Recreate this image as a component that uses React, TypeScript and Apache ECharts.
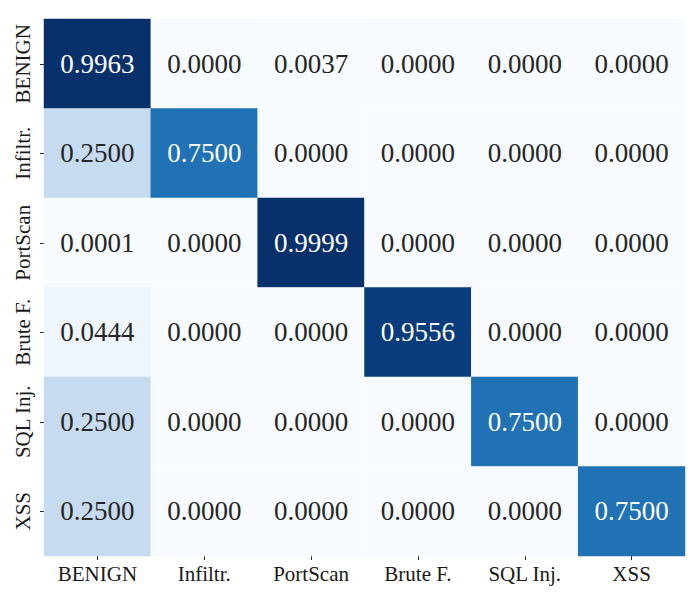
import React, { useEffect, useRef } from "react";
import * as echarts from "echarts";

const categories = ["BENIGN", "Infiltr.", "PortScan", "Brute F.", "SQL Inj.", "XSS"];
const rowBenign = [0.9963, 0.0, 0.0037, 0.0, 0.0, 0.0];
const rowInfiltr = [0.25, 0.75, 0.0, 0.0, 0.0, 0.0];
const rowPortScan = [0.0001, 0.0, 0.9999, 0.0, 0.0, 0.0];
const rowBrute = [0.0444, 0.0, 0.0, 0.9556, 0.0, 0.0];
const rowSql = [0.25, 0.0, 0.0, 0.0, 0.75, 0.0];
const rowXss = [0.25, 0.0, 0.0, 0.0, 0.0, 0.75];
const rows = [rowBenign, rowInfiltr, rowPortScan, rowBrute, rowSql, rowXss];

const blues = ["#f7fbff", "#deebf7", "#c6dbef", "#9ecae1", "#6baed6", "#4292c6", "#2171b5", "#08519c", "#08306b"];
const FONT = "Liberation Serif";

export default function App() {
  const ref = useRef<HTMLDivElement>(null);
  useEffect(() => {
    document.body.style.margin = "0";
    const chart = echarts.init(ref.current!, null, { renderer: "svg" });
    const all = rows.flat();
    const vmin = Math.min(...all);
    const vmax = Math.max(...all);
    const data: any[] = [];
    rows.forEach((row, r) => {
      row.forEach((v, c) => {
        data.push({
          value: [c, r, v],
          label: { color: v > (vmin + vmax) / 2 ? "#ffffff" : "#262626" },
        });
      });
    });
    chart.setOption({
      animation: false,
      backgroundColor: "#ffffff",
      textStyle: { fontFamily: FONT },
      grid: { left: 44, top: 19, width: 641, height: 537 },
      xAxis: {
        type: "category",
        data: categories,
        axisLine: { show: false },
        axisTick: { show: true, length: 4, alignWithLabel: true, lineStyle: { color: "#262626", width: 1 } },
        axisLabel: { interval: 0, fontFamily: FONT, fontSize: 21, color: "#1a1a1a", margin: 7 },
        splitLine: { show: false },
        splitArea: { show: false },
      },
      yAxis: {
        type: "category",
        data: categories,
        inverse: true,
        axisLine: { show: false },
        axisTick: { show: true, length: 4, alignWithLabel: true, lineStyle: { color: "#262626", width: 1 } },
        axisLabel: { interval: 0, fontFamily: FONT, fontSize: 21, color: "#1a1a1a", rotate: 90, margin: 11 },
        splitLine: { show: false },
        splitArea: { show: false },
      },
      visualMap: {
        show: false,
        min: vmin,
        max: vmax,
        dimension: 2,
        inRange: { color: blues },
      },
      series: [
        {
          type: "heatmap",
          data,
          label: {
            show: true,
            fontFamily: FONT,
            fontSize: 27,
            formatter: (p: any) => p.value[2].toFixed(4),
          },
          itemStyle: { borderWidth: 0 },
          emphasis: { disabled: true },
        },
      ],
    });
    return () => chart.dispose();
  }, []);
  return <div ref={ref} style={{ width: 700, height: 600 }} />;
}
